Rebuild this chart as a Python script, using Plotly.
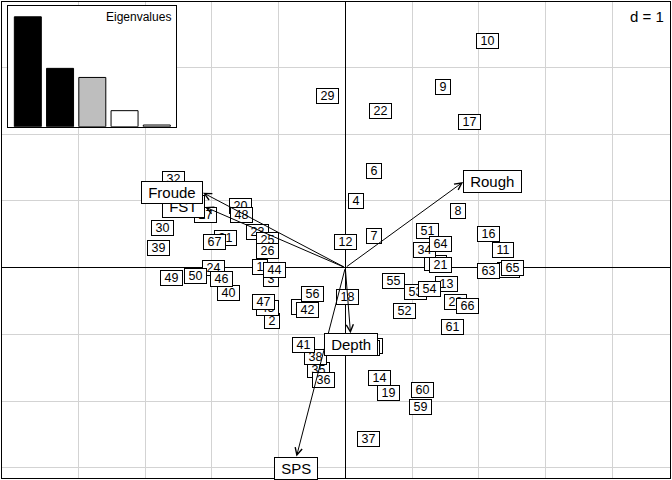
import plotly.graph_objects as go

# ---------------- data ----------------
row_labels = [str(i) for i in range(1, 68)]
row_x = [-1.279, -1.099, -1.114, 0.157, -2.403, 0.430, 0.426, 1.685, 1.465, 2.132,
         2.364, 0.010, 1.510, 0.513, 1.345, 2.147, 1.862, 0.033, 0.648, -1.574,
         1.424, 0.523, -1.319, -1.979, -1.163, -1.163, -2.103, 1.652, -0.270, -2.741,
         -1.789, -2.579, -0.642, 1.184, -0.405, -0.324, 0.351, -0.454, -2.804, -1.748,
         -0.634, -0.574, -0.079, -1.058, -1.162, -1.853, -1.229, -1.553, -2.603, -2.253,
         1.228, 0.880, 1.055, 1.258, 0.720, -0.489, 0.396, 0.355, 1.124, 1.157,
         1.607, 2.454, 2.144, 1.424, 2.514, 1.829, -1.961]
row_y = [0.010, -0.802, -0.169, 1.003, 0.895, 1.450, 0.480, 0.853, 2.714, 3.394,
         0.261, 0.390, -0.249, -1.658, 0.070, 0.505, 2.177, -0.435, -1.886, 0.928,
         0.040, 2.354, 0.528, 0.000, 0.411, 0.250, 0.790, -0.510, 2.577, 0.598,
         0.450, 1.330, -0.589, 0.270, -1.534, -1.684, -2.571, -1.334, 0.291, -0.384,
         -1.162, -0.634, -1.129, -0.042, -0.609, -0.174, -0.517, 0.790, -0.159, -0.132,
         0.555, -0.649, -0.360, -0.324, -0.207, -0.390, -1.174, -1.204, -2.088, -1.834,
         -0.889, -0.042, -0.045, 0.358, -0.009, -0.579, 0.381]

var_names = ["Depth", "SPS", "FST", "Froude", "Rough"]
var_x = [0.078, -0.732, -2.103, -2.133, 1.766]
var_y = [-0.983, -2.831, 0.910, 1.123, 1.285]

eig_values = [2.336, 1.240, 1.047, 0.341, 0.036]
eig_colors = ["black", "black", "#BEBEBE", "white", "white"]

grid_step = 1
grid_x = list(range(-4, 5))
grid_y = list(range(-3, 4))
x_range = [-5.147, 4.868]
y_range = [-3.153, 3.983]

FONT = "Arial, Liberation Sans, sans-serif"
NB = "\u00a0"

fig = go.Figure()

# ---------------- eigenvalue inset ----------------
eig_pos = list(range(1, len(eig_values) + 1))
x2r = [0.394, len(eig_values) + 0.596]
y2r = [0, max(eig_values) * 1.1]
# white background of the inset (a full-width bar drawn first)
fig.add_trace(go.Bar(
    x=[(x2r[0] + x2r[1]) / 2], y=[y2r[1]], width=[x2r[1] - x2r[0]],
    xaxis="x2", yaxis="y2", marker=dict(color="white", line=dict(width=0)),
    hoverinfo="skip", showlegend=False))
fig.add_trace(go.Bar(
    x=eig_pos, y=eig_values, xaxis="x2", yaxis="y2", width=0.837,
    marker=dict(color=eig_colors, line=dict(color="black", width=1)),
    hoverinfo="skip", showlegend=False))

annotations = []
# row labels
for lab, x, y in zip(row_labels, row_x, row_y):
    annotations.append(dict(
        x=x, y=y, xref="x", yref="y", text=NB + lab + NB, showarrow=False,
        font=dict(family=FONT, size=12.5, color="black"),
        bgcolor="white", bordercolor="black", borderwidth=1, borderpad=0))

# arrows
for x, y in zip(var_x, var_y):
    annotations.append(dict(
        x=x, y=y, xref="x", yref="y", ax=0, ay=0, axref="x", ayref="y",
        text="", showarrow=True, arrowhead=5, arrowsize=1.4, arrowwidth=1,
        arrowcolor="black", standoff=0, startstandoff=0))

# variable labels (placed like ade4 scatterutil.eti.circ)
for name, x, y in zip(var_names, var_x, var_y):
    if x > y and x > -y:
        xa, ya = "left", "middle"
    elif x > y and x <= -y:
        xa, ya = "center", "top"
    elif x <= y and x <= -y:
        xa, ya = "right", "middle"
    else:
        xa, ya = "center", "bottom"
    annotations.append(dict(
        x=x, y=y, xref="x", yref="y", text=NB + name + NB, showarrow=False,
        xanchor=xa, yanchor=ya,
        font=dict(family=FONT, size=15, color="black"),
        bgcolor="white", bordercolor="black", borderwidth=1, borderpad=2))

annotations.append(dict(
    x=1, y=1, xref="x2 domain", yref="y2 domain", text="Eigenvalues",
    showarrow=False, xanchor="right", yanchor="top", xshift=-3, yshift=-2,
    font=dict(family=FONT, size=12, color="black")))

annotations.append(dict(
    x=1, y=1, xref="paper", yref="paper", text="d = %d" % grid_step,
    showarrow=False, xanchor="right", yanchor="top", xshift=-4, yshift=-4,
    bgcolor="white", borderpad=1,
    font=dict(family=FONT, size=15, color="black")))

fig.update_layout(
    width=672, height=480,
    margin=dict(l=2, r=2, t=2, b=2, pad=0),
    paper_bgcolor="white", plot_bgcolor="white",
    showlegend=False, barmode="overlay",
    xaxis=dict(range=x_range, tickvals=grid_x, showticklabels=False, ticks="",
               showgrid=True, gridcolor="#D3D3D3", gridwidth=1,
               zeroline=True, zerolinecolor="black", zerolinewidth=1,
               showline=True, mirror=True, linecolor="black", linewidth=1,
               fixedrange=True),
    yaxis=dict(range=y_range, tickvals=grid_y, showticklabels=False, ticks="",
               showgrid=True, gridcolor="#D3D3D3", gridwidth=1,
               zeroline=True, zerolinecolor="black", zerolinewidth=1,
               showline=True, mirror=True, linecolor="black", linewidth=1,
               fixedrange=True),
    xaxis2=dict(domain=[0.0094, 0.2605], anchor="y2", range=x2r,
                showgrid=False, zeroline=False, showticklabels=False, ticks="",
                showline=True, mirror=True, linecolor="black", linewidth=1,
                fixedrange=True),
    yaxis2=dict(domain=[0.738, 0.992], anchor="x2", range=y2r,
                showgrid=False, zeroline=False, showticklabels=False, ticks="",
                showline=True, mirror=True, linecolor="black", linewidth=1,
                fixedrange=True),
    annotations=annotations,
)

fig.write_html("out.html", config={"displayModeBar": False},
               post_script="document.body.style.margin='0';"
                           "document.body.style.overflow='hidden';")
